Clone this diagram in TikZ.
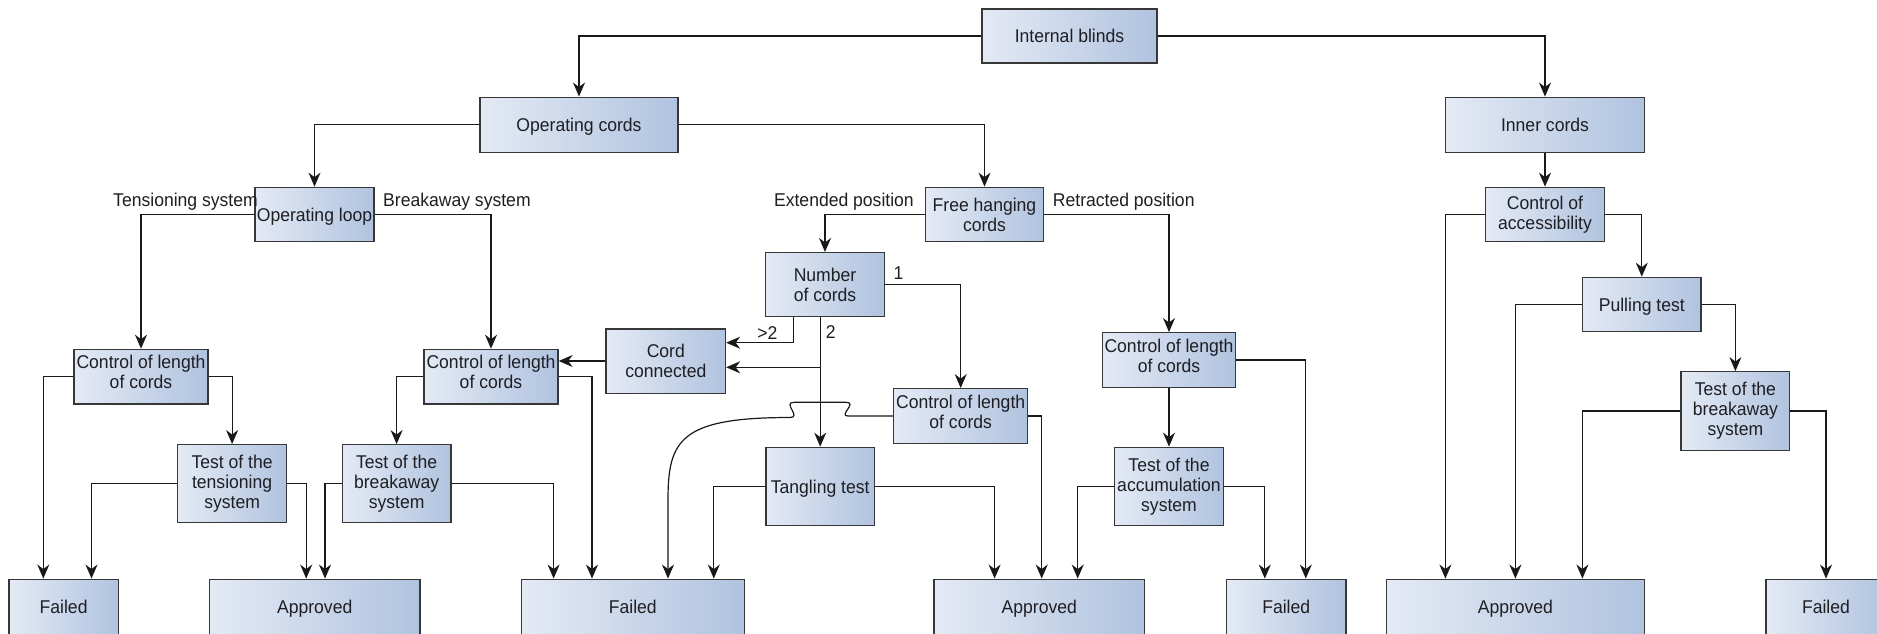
\documentclass[tikz,border=0pt]{standalone}
\usepackage{fontspec}
\setmainfont{Liberation Sans}[FakeStretch=0.95]
\usetikzlibrary{arrows.meta,calc}
\definecolor{boxL}{RGB}{228,234,245}
\definecolor{boxR}{RGB}{176,195,223}
\definecolor{edgec}{RGB}{55,55,55}
\definecolor{ink}{RGB}{30,30,35}
\tikzset{
  wh/.style n args={2}{minimum width=#1pt, minimum height=#2pt},
  box/.style={draw=edgec, line width=1.3pt, left color=boxL, right color=boxR, inner sep=0pt, align=center, text=ink, font=\fontsize{18.5}{20}\selectfont},
  one/.style={text height=13.5pt, text depth=0pt},
  up/.style={text depth=9pt},
  arr/.style={draw=black!90, line width=1.2pt, -{Stealth[length=14pt,width=12pt,inset=4.5pt]}},
  lab/.style={inner sep=0pt, text=ink, font=\fontsize{18.5}{20}\selectfont}
}
\begin{document}
\begin{tikzpicture}[x=1pt,y=-1pt]
\path[use as bounding box, fill=white] (0,0) rectangle (1877,633);
% top levels
\node[box, one, wh={175}{54}] (ib) at (1069.5,36) {Internal blinds};
\node[box, one, wh={198}{55}] (oc) at (579,124.7) {Operating cords};
\node[box, one, wh={199}{55}] (inner) at (1545,124.7) {Inner cords};
\node[box, one, wh={119}{54.5}] (ol) at (314.5,214.5) {Operating loop};
\node[box, wh={118}{54.5}] (fhc) at (984.5,214.5) {Free hanging\\cords};
\node[box, wh={119}{54.5}] (coa) at (1545,214.5) {Control of\\accessibility};
% middle
\node[box, up, wh={134}{54.7}] (col1) at (141,376.7) {Control of length\\of cords};
\node[box, up, wh={134}{54.7}] (col2) at (491,376.7) {Control of length\\of cords};
\node[box, wh={119.4}{64.3}] (cc) at (665.8,361) {Cord\\connected};
\node[box, wh={118.4}{64}] (noc) at (825,284.6) {Number\\of cords};
\node[box, up, wh={134}{54.6}] (colm) at (960.7,416) {Control of length\\of cords};
\node[box, up, wh={133.5}{54.6}] (colr) at (1169,360) {Control of length\\of cords};
\node[box, one, wh={118.5}{54.4}] (pt) at (1641.8,304.5) {Pulling test};
\node[box, wh={109}{77.6}] (ttens) at (232.1,483.5) {Test of the\\tensioning\\system};
\node[box, wh={108.5}{77.6}] (tbrk) at (396.6,483.5) {Test of the\\breakaway\\system};
\node[box, one, wh={108.5}{78}] (tt) at (820.2,486.3) {Tangling test};
\node[box, wh={109.3}{78}] (tacc) at (1169,486.3) {Test of the\\accumulation\\system};
\node[box, wh={108.8}{78.6}] (tbrk2) at (1735.4,411) {Test of the\\breakaway\\system};
% bottom
\node[box, one, wh={109.4}{55}] (f1) at (63.6,606.7) {Failed};
\node[box, one, wh={210.6}{55}] (a1) at (314.7,606.7) {Approved};
\node[box, one, wh={222.8}{55}] (f2) at (632.8,606.7) {Failed};
\node[box, one, wh={210.6}{55}] (a2) at (1039.3,606.7) {Approved};
\node[box, one, wh={119.7}{55}] (f3) at (1286.2,606.7) {Failed};
\node[box, one, wh={257.8}{55}] (a3) at (1515.4,606.7) {Approved};
\node[box, one, wh={120}{55}] (f4) at (1826,606.7) {Failed};
% labels
\node[lab, anchor=east] (lts) at (258,201.5) {Tensioning system};
\node[lab, anchor=west] (lbs) at (383,201.5) {Breakaway system};
\node[lab, anchor=east] (lep) at (914,201.5) {Extended position};
\node[lab, anchor=west] (lrp) at (1052.7,201.5) {Retracted position};
\node[lab] (l1) at (898.6,272.7) {1};
\node[lab] (l2) at (830.8,331.7) {2};
\node[lab] (l3) at (767.4,333.3) {>2};
% connectors
\draw[arr] (ib.west) -| (oc.north);
\draw[arr] (ib.east) -| (inner.north);
\draw[arr] (oc.west) -| (ol.north);
\draw[arr] (oc.east) -| (fhc.north);
\draw[arr] (inner.south) -- (coa.north);
\draw[arr] (ol.west) -| (col1.north);
\draw[arr] (ol.east) -| (col2.north);
\draw[arr] (fhc.west) -| (noc.north);
\draw[arr] (fhc.east) -| (colr.north);
\draw[arr] (coa.west) -| ([xshift=-70pt]a3.north);
\draw[arr] (coa.east) -| (pt.north);
\draw[arr] (pt.west) -| (a3.north);
\draw[arr] (pt.east) -| (tbrk2.north);
\draw[arr] (tbrk2.west) -| ([xshift=67pt]a3.north);
\draw[arr] (tbrk2.east) -| (f4.north);
\draw[arr] (col1.west) -| ([xshift=-20.3pt]f1.north);
\draw[arr] (col1.east) -| (ttens.north);
\draw[arr] (ttens.west) -| ([xshift=27.9pt]f1.north);
\draw[arr] (ttens.east) -| ([xshift=-8.5pt]a1.north);
\draw[arr] (col2.west) -| (tbrk.north);
\draw[arr] (col2.east) -| ([xshift=-40.8pt]f2.north);
\draw[arr] (cc.west) -- (cc.west -| col2.east);
\draw[arr] (tbrk.west) -| ([xshift=10.3pt]a1.north);
\draw[arr] (tbrk.east) -| ([xshift=-79.2pt]f2.north);
\draw[arr] ([xshift=-31.7pt]noc.south) |- ([yshift=18.3pt]cc.east);
\draw[arr] (tt.north |- noc.south) -- (tt.north);
\coordinate (br) at (820.2,367.3);
\draw[arr] (br) -- (br -| cc.east);
\draw[arr] (noc.east) -| (colm.north);
\draw[arr] (colm.west) -- (848,416) .. controls (838,416) and (858,402.3) .. (846,402.3) -- (794,402.3) .. controls (782,402.3) and (802,417.5) .. (790,417.5) .. controls (680,417.5) and (668,440) .. (668,500) -- ([xshift=35.2pt]f2.north);
\draw[arr] (colm.east) -| ([xshift=2.4pt]a2.north);
\draw[arr] (tt.west) -| ([xshift=81pt]f2.north);
\draw[arr] (tt.east) -| ([xshift=-44.7pt]a2.north);
\draw[arr] (colr.south) -- (tacc.north);
\draw[arr] (colr.east) -| ([xshift=19.6pt]f3.north);
\draw[arr] (tacc.west) -| ([xshift=38.4pt]a2.north);
\draw[arr] (tacc.east) -| ([xshift=-21.4pt]f3.north);
\end{tikzpicture}
\end{document}
